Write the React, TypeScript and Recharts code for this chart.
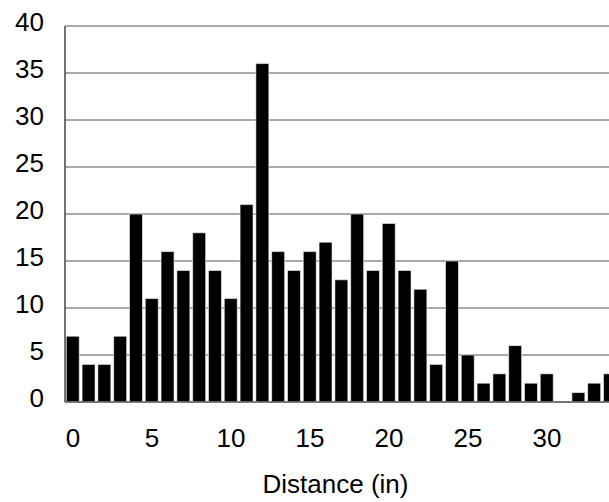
import { BarChart, Bar, XAxis, YAxis, CartesianGrid, Label } from 'recharts'

// distance bins (in) and counts
const distances = [
  0, 1, 2, 3, 4, 5, 6, 7, 8, 9, 10, 11, 12, 13, 14, 15, 16, 17,
  18, 19, 20, 21, 22, 23, 24, 25, 26, 27, 28, 29, 30, 31, 32, 33, 34,
]
const counts = [
  7, 4, 4, 7, 20, 11, 16, 14, 18, 14, 11, 21, 36, 16, 14, 16, 17, 13,
  20, 14, 19, 14, 12, 4, 15, 5, 2, 3, 6, 2, 3, 0, 1, 2, 3,
]
const yTicks = [0, 5, 10, 15, 20, 25, 30, 35, 40]

const data = distances.map((d, i) => ({ distance: d, count: counts[i] }))

const font = '"Liberation Sans", Arial, sans-serif'

export default function App() {
  return (
    <div style={{ position: 'fixed', left: 0, top: 0, width: 609, height: 502, overflow: 'hidden', background: '#fff' }}>
      <BarChart
        width={618}
        height={502}
        data={data}
        margin={{ top: 26, right: 0, bottom: 0, left: 0 }}
        barCategoryGap="8%"
      >
        <CartesianGrid horizontal vertical={false} stroke="#555" strokeWidth={1} />
        <XAxis
          dataKey="distance"
          height={100}
          interval={4}
          tickLine={false}
          tickSize={0}
          tickMargin={27}
          axisLine={{ stroke: '#666', strokeWidth: 1.5 }}
          tick={{ fill: '#000', fontSize: 26, fontFamily: font }}
        >
          <Label
            value="Distance (in)"
            position="insideBottom"
            offset={9}
            dx={-6}
            style={{ fill: '#000', fontSize: 26, fontFamily: font }}
          />
        </XAxis>
        <YAxis
          width={65}
          domain={[0, 40]}
          ticks={yTicks}
          interval={0}
          tickLine={false}
          tickSize={0}
          tickMargin={21}
          axisLine={{ stroke: '#444', strokeWidth: 1.5 }}
          tick={{ fill: '#000', fontSize: 26, fontFamily: font, dy: -4 }}
        />
        <Bar dataKey="count" fill="#000" stroke="#fff" strokeWidth={0.6} isAnimationActive={false} />
      </BarChart>
    </div>
  )
}
